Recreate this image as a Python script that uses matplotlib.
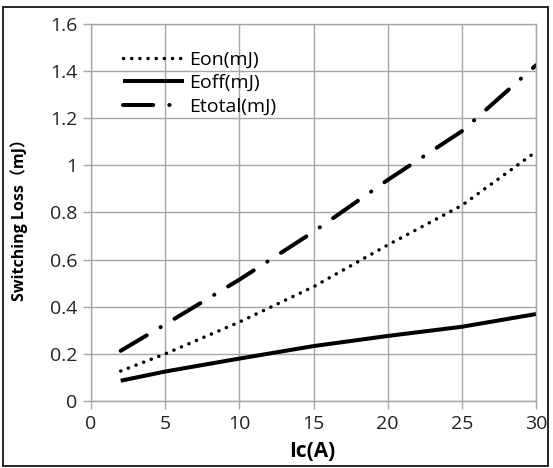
import matplotlib
matplotlib.use("Agg")
import matplotlib.pyplot as plt
from matplotlib.patches import Rectangle
from matplotlib.ticker import FuncFormatter, MultipleLocator

plt.rcParams['font.family'] = ['Open Sans', 'Noto Sans CJK SC', 'DejaVu Sans']

# data
ic = [2, 5, 10, 15, 20, 25, 30]
eon = [0.127, 0.200, 0.335, 0.485, 0.662, 0.830, 1.058]
eoff = [0.086, 0.125, 0.180, 0.233, 0.276, 0.315, 0.369]
etotal = [0.213, 0.325, 0.515, 0.718, 0.938, 1.145, 1.425]

GRID = '#a6a6a6'

fig = plt.figure(figsize=(5.53, 4.68), dpi=100)
ax = fig.add_axes([0.1646, 0.1432, 0.9693 - 0.1646, 0.9487 - 0.1432])

ax.plot(ic, eon, color='black', lw=2.5, dashes=(0.05, 2.3),
        dash_capstyle='round', label='Eon(mJ)')
ax.plot(ic, eoff, color='black', lw=2.9, solid_capstyle='butt',
        label='Eoff(mJ)')
ax.plot(ic, etotal, color='black', lw=2.9, dashes=(7.5, 4.0, 0.05, 4.0),
        dash_capstyle='round', label='Etotal(mJ)')

ax.set_xlim(0, 30)
ax.set_ylim(0, 1.6)
ax.xaxis.set_major_locator(MultipleLocator(5))
ax.yaxis.set_major_locator(MultipleLocator(0.2))
ax.yaxis.set_major_formatter(FuncFormatter(lambda v, p: f"{v:g}"))
ax.grid(True, color=GRID, lw=1.0)
ax.set_axisbelow(True)
for s in ax.spines.values():
    s.set_color(GRID)
    s.set_linewidth(1.0)
ax.tick_params(direction='out', length=6, width=1.0, color=GRID,
               labelsize=14, labelcolor='#222222', pad=4)

ax.set_xlabel('Ic(A)', fontsize=15, fontweight='bold')
ax.xaxis.set_label_coords(0.497, -0.105)
ax.set_ylabel('Switching Loss（mJ）', fontsize=11.5, fontweight='bold')
ax.yaxis.set_label_coords(-0.142, 0.49)

ax.legend(loc='upper left', bbox_to_anchor=(0.055, 0.95), frameon=False,
          fontsize=14, handlelength=3.1, handletextpad=0.3, labelspacing=0.28,
          borderaxespad=0)

# outer frame around the figure
fig.patches.append(Rectangle((0.0054, 0.0043), 0.9855, 0.981,
                             transform=fig.transFigure, fill=False,
                             edgecolor='black', lw=1.2))

fig.savefig('out.png', dpi=100)
